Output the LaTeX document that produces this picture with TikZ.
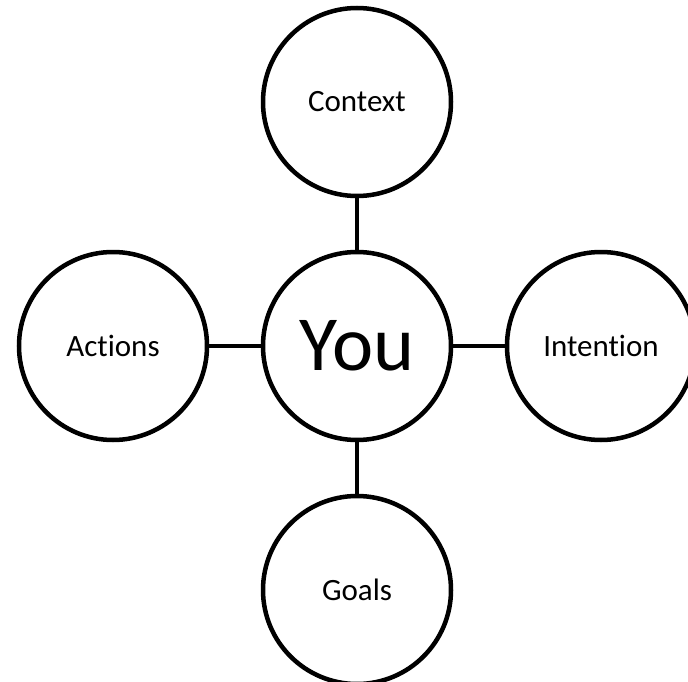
\documentclass[tikz,border=0pt]{standalone}
\usepackage{fontspec}
\setmainfont[Ligatures=NoCommon]{Carlito}
\begin{document}
\begin{tikzpicture}[x=1pt,y=-1pt,
  bubble/.style={draw=black,line width=4.5pt,circle,minimum size=188pt,inner sep=0pt,fill=white,font=\fontsize{31}{36}\selectfont},
  link/.style={draw=black,line width=4.5pt}]
\useasboundingbox (0,0) rectangle (688,682);
\fill[white] (0,0) rectangle (688,682);
\node[bubble,font=\fontsize{78}{90}\selectfont] (you) at (357,346) {You};
\node[bubble] (context) at (357,102) {Context};
\node[bubble] (goals) at (357,590) {Goals};
\node[bubble] (actions) at (113,346) {Actions};
\node[bubble] (intention) at (601,346) {Intention};
\draw[link] (context) -- (you);
\draw[link] (you) -- (goals);
\draw[link] (actions) -- (you);
\draw[link] (you) -- (intention);
\end{tikzpicture}
\end{document}
